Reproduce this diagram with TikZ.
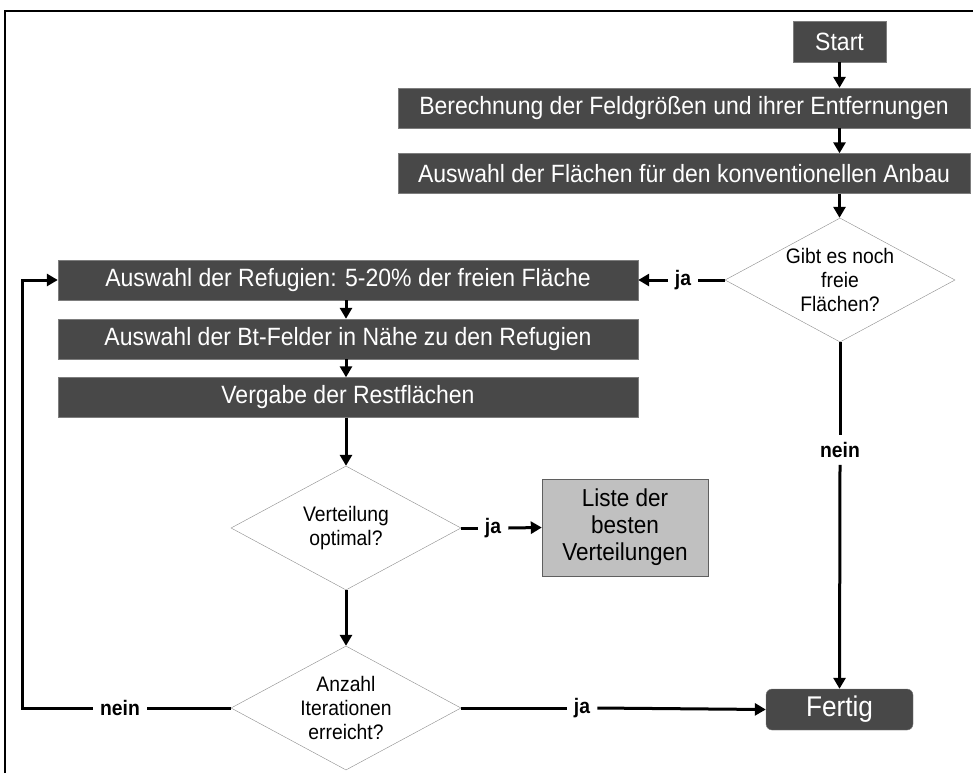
\documentclass[tikz,border=0pt]{standalone}
\usepackage{fontspec}
\setmainfont{Liberation Sans}[FakeStretch=0.92]
\usetikzlibrary{shapes.geometric,arrows.meta}
\definecolor{boxgray}{RGB}{72,72,72}
\definecolor{boxedge}{RGB}{125,125,125}
\definecolor{listgray}{RGB}{192,192,192}
\definecolor{listedge}{RGB}{95,95,95}
\definecolor{diaedge}{RGB}{140,140,140}
\tikzstyle{procbox}=[draw=boxedge,fill=boxgray,text=white,inner sep=0pt,font=\fontsize{25}{27}\selectfont]
\tikzstyle{rightcol}=[minimum width=572pt,minimum height=40pt]
\tikzstyle{leftcol}=[minimum width=580pt,minimum height=40pt]
\tikzstyle{listbox}=[draw=listedge,fill=listgray,align=center,inner sep=0pt,minimum width=166pt,minimum height=97pt,font=\fontsize{24.5}{27}\selectfont]
\tikzstyle{decide}=[diamond,draw=diaedge,fill=white,aspect=1.85,inner sep=0pt,align=center,minimum width=230pt,minimum height=124pt,font=\fontsize{21}{24}\selectfont]
\tikzstyle{answer}=[inner sep=7pt,font=\bfseries\fontsize{21}{24}\selectfont]
\tikzstyle{plain}=[line width=3pt]
\tikzstyle{flow}=[line width=3pt,-{Triangle[length=11pt,width=12pt]}]

\begin{document}
\begin{tikzpicture}[x=1pt,y=-1pt]
\useasboundingbox (0,0) rectangle (973,773);
\draw[line width=2pt] (5,773) -- (5,11) -- (973,11);

% right column
\node[procbox,minimum width=93pt,minimum height=41pt] (start) at (839.5,41.5) {Start};
\node[procbox,rightcol] (calc) at (684,108) {Berechnung der Feldgrößen und ihrer Entfernungen};
\node[procbox,rightcol] (conv) at (684,173.5) {Auswahl der Flächen für den konventionellen Anbau};
\node[decide] (free) at (840,280) {Gibt es noch\\freie\\Flächen?};
\node[procbox,rounded corners=6pt,minimum width=147pt,minimum height=41pt,font=\fontsize{28.5}{30}\selectfont] (done) at (839.5,709.5) {Fertig};

% left column
\node[procbox,leftcol] (ref) at (348,280) {Auswahl der Refugien: 5-20\% der freien Fläche};
\node[procbox,leftcol] (bt) at (348,339) {Auswahl der Bt-Felder in Nähe zu den Refugien};
\node[procbox,leftcol] (rest) at (348,397.5) {Vergabe der Restflächen};
\node[decide] (opt) at (346,528) {Verteilung\\optimal?};
\node[decide] (iter) at (346,708) {Anzahl\\Iterationen\\erreicht?};
\node[listbox] (best) at (625,527.5) {Liste der\\besten\\Verteilungen};

% answers
\node[answer] (yes1) at (683,280) {ja};
\node[answer] (no1) at (840,450) {nein};
\node[answer] (yes2) at (493,528) {ja};
\node[answer] (yes3) at (582,708) {ja};
\node[answer] (no2) at (120,708) {nein};
\coordinate (loopbot) at (22,708);
\coordinate (looptop) at (22,280);

\foreach \a/\b/\c in {start/calc/start, calc/conv/start, conv/free/start, ref/bt/opt, bt/rest/opt, rest/opt/opt, opt/iter/opt}
    \draw[flow] (\c |- \a.south) -- (\c |- \b.north);

\draw[plain] (free.west) -- (yes1.east);
\draw[flow] (yes1.west) -- (ref.east);
\draw[plain] (free.south) -- (no1.north);
\draw[flow] (no1.south) -- (done.north);
\draw[plain] (opt.east) -- (yes2.west);
\draw[flow] (yes2.east) -- (best.west);
\draw[plain] (iter.east) -- (yes3.west);
\draw[flow] (yes3.east) -- (done.west);
\draw[plain] (iter.west) -- (no2.east);
\draw[flow] (no2.west) -- (loopbot) -- (looptop) -- (ref.west);

\end{tikzpicture}
\end{document}
